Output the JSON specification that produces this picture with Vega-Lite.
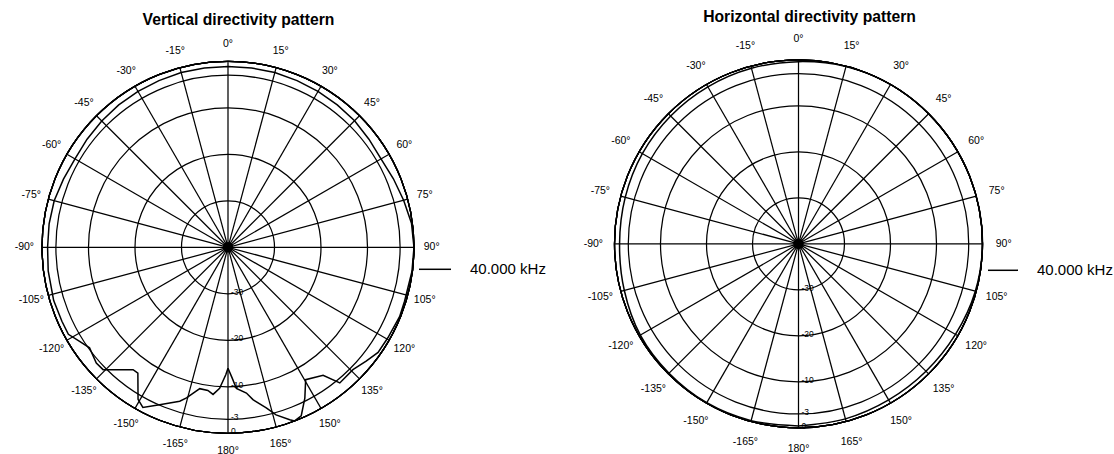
{
  "$schema": "https://vega.github.io/schema/vega-lite/v6.json",
  "padding": {"top": 8, "left": 0, "right": 0, "bottom": 0},
  "spacing": 0,
  "datasets": {
    "spokes": [{"a":0},{"a":15},{"a":30},{"a":45},{"a":60},{"a":75},{"a":90},{"a":105},{"a":120},{"a":135},{"a":150},{"a":165},{"a":180},{"a":195},{"a":210},{"a":225},{"a":240},{"a":255},{"a":270},{"a":285},{"a":300},{"a":315},{"a":330},{"a":345}],
    "rings": [{"db":0},{"db":-3},{"db":-10},{"db":-20},{"db":-30}],
    "anglabels": [{"a":0,"t":"0°"},{"a":15,"t":"15°"},{"a":30,"t":"30°"},{"a":45,"t":"45°"},{"a":60,"t":"60°"},{"a":75,"t":"75°"},{"a":90,"t":"90°"},{"a":105,"t":"105°"},{"a":120,"t":"120°"},{"a":135,"t":"135°"},{"a":150,"t":"150°"},{"a":165,"t":"165°"},{"a":180,"t":"180°"},{"a":-15,"t":"-15°"},{"a":-30,"t":"-30°"},{"a":-45,"t":"-45°"},{"a":-60,"t":"-60°"},{"a":-75,"t":"-75°"},{"a":-90,"t":"-90°"},{"a":-105,"t":"-105°"},{"a":-120,"t":"-120°"},{"a":-135,"t":"-135°"},{"a":-150,"t":"-150°"},{"a":-165,"t":"-165°"}],
    "dblabels": [{"db":0,"t":"0"},{"db":-3,"t":"-3"},{"db":-10,"t":"-10"},{"db":-20,"t":"-20"},{"db":-30,"t":"-30"}],
    "vertical": [
      {"a":-180,"db":-14.0,"s":"40.000 kHz"},{"a":-179,"db":-12.6,"s":"40.000 kHz"},{"a":-176.6,"db":-9.6,"s":"40.000 kHz"},{"a":-174.2,"db":-8.2,"s":"40.000 kHz"},{"a":-172,"db":-8.9,"s":"40.000 kHz"},{"a":-168.7,"db":-9.0,"s":"40.000 kHz"},{"a":-164.6,"db":-6.4,"s":"40.000 kHz"},{"a":-162.6,"db":-5.3,"s":"40.000 kHz"},{"a":-156.5,"db":-3.1,"s":"40.000 kHz"},{"a":-152,"db":-1.0,"s":"40.000 kHz"},{"a":-149.4,"db":-2.0,"s":"40.000 kHz"},{"a":-144.4,"db":-6.7,"s":"40.000 kHz"},{"a":-142.2,"db":-6.7,"s":"40.000 kHz"},{"a":-134.4,"db":-2.4,"s":"40.000 kHz"},{"a":-131.3,"db":-2.3,"s":"40.000 kHz"},{"a":-126,"db":-3.2,"s":"40.000 kHz"},{"a":-122.4,"db":-2.2,"s":"40.000 kHz"},{"a":-118.6,"db":-0.9,"s":"40.000 kHz"},{"a":-114,"db":-0.9,"s":"40.000 kHz"},{"a":-107,"db":-0.8,"s":"40.000 kHz"},{"a":-97.5,"db":-1.0,"s":"40.000 kHz"},{"a":-90,"db":-1.2,"s":"40.000 kHz"},{"a":-82.5,"db":-1.2,"s":"40.000 kHz"},{"a":-75,"db":-1.3,"s":"40.000 kHz"},{"a":-67.5,"db":-1.7,"s":"40.000 kHz"},{"a":-60,"db":-2.0,"s":"40.000 kHz"},{"a":-52.5,"db":-1.8,"s":"40.000 kHz"},{"a":-45,"db":-1.6,"s":"40.000 kHz"},{"a":-37.5,"db":-1.4,"s":"40.000 kHz"},{"a":-30,"db":-1.3,"s":"40.000 kHz"},{"a":-22.5,"db":-1.2,"s":"40.000 kHz"},{"a":-15,"db":-1.1,"s":"40.000 kHz"},{"a":-7.5,"db":-1.1,"s":"40.000 kHz"},{"a":0,"db":-1.1,"s":"40.000 kHz"},{"a":7.5,"db":-1.1,"s":"40.000 kHz"},{"a":15,"db":-1.1,"s":"40.000 kHz"},{"a":22.5,"db":-1.2,"s":"40.000 kHz"},{"a":30,"db":-1.3,"s":"40.000 kHz"},{"a":37.5,"db":-1.4,"s":"40.000 kHz"},{"a":45,"db":-1.5,"s":"40.000 kHz"},{"a":52.5,"db":-1.8,"s":"40.000 kHz"},{"a":60,"db":-2.0,"s":"40.000 kHz"},{"a":67.5,"db":-1.5,"s":"40.000 kHz"},{"a":75,"db":-0.9,"s":"40.000 kHz"},{"a":82.5,"db":-0.2,"s":"40.000 kHz"},{"a":90,"db":0,"s":"40.000 kHz"},{"a":97.5,"db":-0.1,"s":"40.000 kHz"},{"a":107,"db":-0.3,"s":"40.000 kHz"},{"a":112,"db":-0.2,"s":"40.000 kHz"},{"a":119.5,"db":-0.5,"s":"40.000 kHz"},{"a":125,"db":-0.6,"s":"40.000 kHz"},{"a":129.5,"db":-1.5,"s":"40.000 kHz"},{"a":134.4,"db":-2.4,"s":"40.000 kHz"},{"a":140.5,"db":-2.2,"s":"40.000 kHz"},{"a":143.4,"db":-5.7,"s":"40.000 kHz"},{"a":149.6,"db":-7.0,"s":"40.000 kHz"},{"a":153,"db":-3.6,"s":"40.000 kHz"},{"a":156.5,"db":-0.5,"s":"40.000 kHz"},{"a":159,"db":0,"s":"40.000 kHz"},{"a":160.3,"db":-0.6,"s":"40.000 kHz"},{"a":164,"db":-2.5,"s":"40.000 kHz"},{"a":166.6,"db":-4.5,"s":"40.000 kHz"},{"a":170.7,"db":-6.8,"s":"40.000 kHz"},{"a":172.8,"db":-8.4,"s":"40.000 kHz"},{"a":176.6,"db":-9.6,"s":"40.000 kHz"},{"a":178.2,"db":-11.9,"s":"40.000 kHz"},{"a":180,"db":-14.0,"s":"40.000 kHz"}
    ],
    "horizontal": [
      {"a":-180,"db":-0.4,"s":"40.000 kHz"},{"a":-165,"db":-0.2,"s":"40.000 kHz"},{"a":-150,"db":-0.1,"s":"40.000 kHz"},{"a":-135,"db":-0.2,"s":"40.000 kHz"},{"a":-120,"db":-0.3,"s":"40.000 kHz"},{"a":-105,"db":-0.8,"s":"40.000 kHz"},{"a":-90,"db":-1.1,"s":"40.000 kHz"},{"a":-75,"db":-1.0,"s":"40.000 kHz"},{"a":-60,"db":-0.8,"s":"40.000 kHz"},{"a":-45,"db":-0.7,"s":"40.000 kHz"},{"a":-30,"db":-0.6,"s":"40.000 kHz"},{"a":-15,"db":-0.5,"s":"40.000 kHz"},{"a":0,"db":-0.4,"s":"40.000 kHz"},{"a":15,"db":-0.1,"s":"40.000 kHz"},{"a":30,"db":0,"s":"40.000 kHz"},{"a":45,"db":0,"s":"40.000 kHz"},{"a":60,"db":0,"s":"40.000 kHz"},{"a":75,"db":0,"s":"40.000 kHz"},{"a":90,"db":0,"s":"40.000 kHz"},{"a":105,"db":-0.2,"s":"40.000 kHz"},{"a":120,"db":-0.6,"s":"40.000 kHz"},{"a":135,"db":-0.8,"s":"40.000 kHz"},{"a":150,"db":-0.8,"s":"40.000 kHz"},{"a":165,"db":-0.6,"s":"40.000 kHz"},{"a":180,"db":-0.4,"s":"40.000 kHz"}
    ]
  },
  "hconcat": [
    {
      "width": 557,
      "height": 420,
      "title": {"text": "Vertical directivity pattern", "fontSize": 15.7, "fontWeight": "bold", "font": "Liberation Sans", "color": "#000", "dx": -40, "offset": 6},
      "layer": [
        {
          "data": {"name": "spokes"},
          "transform": [
            {"calculate": "40*sin(datum.a*PI/180)", "as": "sx"},
            {"calculate": "40*cos(datum.a*PI/180)", "as": "sy"}
          ],
          "mark": {"type": "rule", "stroke": "#000", "strokeWidth": 1.25},
          "encoding": {
            "x": {"field": "sx", "type": "quantitative", "scale": {"domain": [-49.032, 70.753], "nice": false, "zero": false}},
            "y": {"field": "sy", "type": "quantitative", "scale": {"domain": [-44.667, 45.656], "nice": false, "zero": false}},
            "x2": {"datum": 0},
            "y2": {"datum": 0}
          }
        },
        {
          "data": {"name": "rings"},
          "mark": {"type": "arc", "theta": 0, "theta2": 6.2832, "filled": false, "stroke": "#000", "strokeWidth": 1.25},
          "encoding": {
            "x": {"datum": 0, "type": "quantitative"},
            "y": {"datum": 0, "type": "quantitative"},
            "radius": {"field": "db", "type": "quantitative", "stack": null, "scale": {"type": "linear", "domain": [-40, 0], "range": [0, 186], "zero": false, "nice": false}}
          }
        },
        {
          "data": {"values": [{"c": 0}]},
          "mark": {"type": "point", "filled": true, "size": 110, "color": "#000", "opacity": 1},
          "encoding": {
            "x": {"datum": 0, "type": "quantitative"},
            "y": {"datum": 0, "type": "quantitative"}
          }
        },
        {
          "data": {"name": "vertical"},
          "transform": [
            {"calculate": "datum.db+40", "as": "r"},
            {"calculate": "datum.r*sin(datum.a*PI/180)", "as": "cx"},
            {"calculate": "datum.r*cos(datum.a*PI/180)", "as": "cy"}
          ],
          "mark": {"type": "line", "strokeWidth": 1.5, "interpolate": "linear"},
          "encoding": {
            "x": {"field": "cx", "type": "quantitative"},
            "y": {"field": "cy", "type": "quantitative"},
            "order": {"field": "a", "type": "quantitative"},
            "color": {
              "field": "s", "type": "nominal",
              "scale": {"domain": ["40.000 kHz"], "range": ["#000"]},
              "legend": {"orient": "none", "legendX": 418, "legendY": 217.3, "title": null, "symbolType": "stroke", "symbolSize": 1024, "symbolStrokeWidth": 1.5, "labelFontSize": 15, "labelFont": "Liberation Sans", "labelColor": "#000", "labelOffset": 18, "padding": 0}
            }
          }
        },
        {
          "data": {"name": "anglabels"},
          "transform": [
            {"calculate": "43.8*sin(datum.a*PI/180)", "as": "lx"},
            {"calculate": "43.8*cos(datum.a*PI/180)", "as": "ly"}
          ],
          "mark": {"type": "text", "fontSize": 10.5, "font": "Liberation Sans", "color": "#000", "align": "center", "baseline": "middle"},
          "encoding": {
            "x": {"field": "lx", "type": "quantitative"},
            "y": {"field": "ly", "type": "quantitative"},
            "text": {"field": "t"}
          }
        },
        {
          "data": {"name": "dblabels"},
          "transform": [
            {"calculate": "-(datum.db+40)", "as": "ly"},
            {"calculate": "0", "as": "lx"}
          ],
          "mark": {"type": "text", "fontSize": 8.5, "font": "Liberation Sans", "color": "#000", "align": "left", "baseline": "middle", "dx": 3, "dy": -2},
          "encoding": {
            "x": {"field": "lx", "type": "quantitative"},
            "y": {"field": "ly", "type": "quantitative"},
            "text": {"field": "t"}
          }
        }
      ]
    },
    {
      "width": 557,
      "height": 420,
      "title": {"text": "Horizontal directivity pattern", "fontSize": 15.7, "fontWeight": "bold", "font": "Liberation Sans", "color": "#000", "dx": -26, "dy": -2, "offset": 6},
      "layer": [
        {
          "data": {"name": "spokes"},
          "transform": [
            {"calculate": "40*sin(datum.a*PI/180)", "as": "sx"},
            {"calculate": "40*cos(datum.a*PI/180)", "as": "sy"}
          ],
          "mark": {"type": "rule", "stroke": "#000", "strokeWidth": 1.25},
          "encoding": {
            "x": {"field": "sx", "type": "quantitative", "scale": {"domain": [-52.5, 68.587], "nice": false, "zero": false}},
            "y": {"field": "sy", "type": "quantitative", "scale": {"domain": [-45.913, 45.391], "nice": false, "zero": false}},
            "x2": {"datum": 0},
            "y2": {"datum": 0}
          }
        },
        {
          "data": {"name": "rings"},
          "mark": {"type": "arc", "theta": 0, "theta2": 6.2832, "filled": false, "stroke": "#000", "strokeWidth": 1.25},
          "encoding": {
            "x": {"datum": 0, "type": "quantitative"},
            "y": {"datum": 0, "type": "quantitative"},
            "radius": {"field": "db", "type": "quantitative", "stack": null, "scale": {"type": "linear", "domain": [-40, 0], "range": [0, 184], "zero": false, "nice": false}}
          }
        },
        {
          "data": {"values": [{"c": 0}]},
          "mark": {"type": "point", "filled": true, "size": 110, "color": "#000", "opacity": 1},
          "encoding": {
            "x": {"datum": 0, "type": "quantitative"},
            "y": {"datum": 0, "type": "quantitative"}
          }
        },
        {
          "data": {"name": "horizontal"},
          "transform": [
            {"calculate": "datum.db+40", "as": "r"},
            {"calculate": "datum.r*sin(datum.a*PI/180)", "as": "cx"},
            {"calculate": "datum.r*cos(datum.a*PI/180)", "as": "cy"}
          ],
          "mark": {"type": "line", "strokeWidth": 1.5, "interpolate": "catmull-rom"},
          "encoding": {
            "x": {"field": "cx", "type": "quantitative"},
            "y": {"field": "cy", "type": "quantitative"},
            "order": {"field": "a", "type": "quantitative"},
            "color": {
              "field": "s", "type": "nominal",
              "scale": {"domain": ["40.000 kHz"], "range": ["#000"]},
              "legend": {"orient": "none", "legendX": 430, "legendY": 219.3, "title": null, "symbolType": "stroke", "symbolSize": 900, "symbolStrokeWidth": 1.5, "labelFontSize": 15, "labelFont": "Liberation Sans", "labelColor": "#000", "labelOffset": 18, "padding": 0}
            }
          }
        },
        {
          "data": {"name": "anglabels"},
          "transform": [
            {"calculate": "44.6*sin(datum.a*PI/180)", "as": "lx"},
            {"calculate": "44.6*cos(datum.a*PI/180)", "as": "ly"}
          ],
          "mark": {"type": "text", "fontSize": 10.5, "font": "Liberation Sans", "color": "#000", "align": "center", "baseline": "middle"},
          "encoding": {
            "x": {"field": "lx", "type": "quantitative"},
            "y": {"field": "ly", "type": "quantitative"},
            "text": {"field": "t"}
          }
        },
        {
          "data": {"name": "dblabels"},
          "transform": [
            {"calculate": "-(datum.db+40)", "as": "ly"},
            {"calculate": "0", "as": "lx"}
          ],
          "mark": {"type": "text", "fontSize": 8.5, "font": "Liberation Sans", "color": "#000", "align": "left", "baseline": "middle", "dx": 3, "dy": -2},
          "encoding": {
            "x": {"field": "lx", "type": "quantitative"},
            "y": {"field": "ly", "type": "quantitative"},
            "text": {"field": "t"}
          }
        }
      ]
    }
  ],
  "resolve": {
    "scale": {"x": "independent", "y": "independent", "radius": "independent", "color": "independent"},
    "legend": {"color": "independent"}
  },
  "config": {
    "view": {"stroke": null},
    "axis": {"disable": true},
    "font": "Liberation Sans",
    "background": "#ffffff"
  }
}
